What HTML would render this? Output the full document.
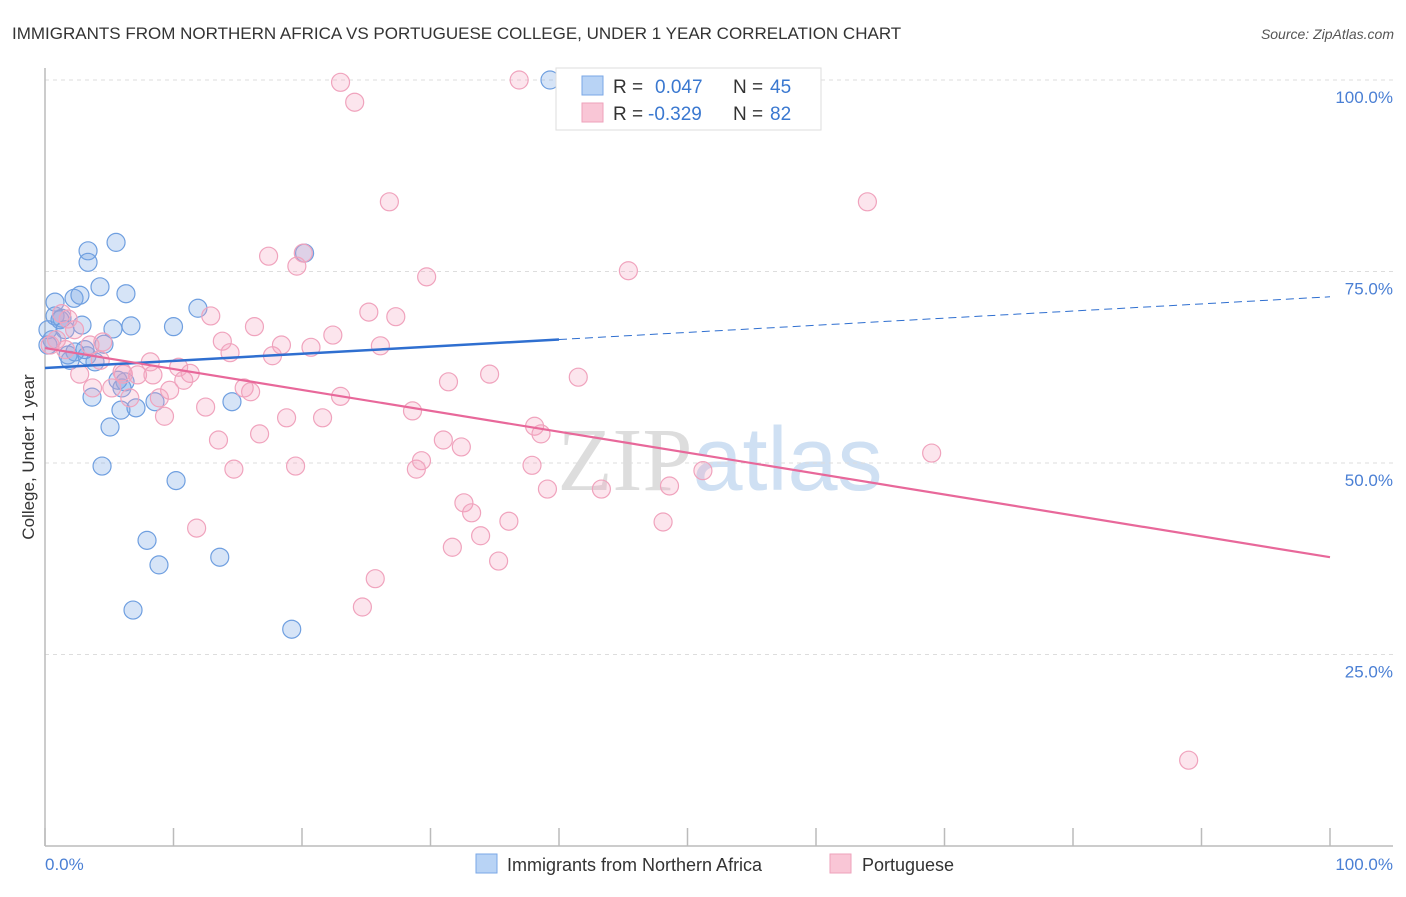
<!DOCTYPE html>
<html><head><meta charset="utf-8"><style>
body{margin:0;background:#fff;font-family:"Liberation Sans",sans-serif}
svg text{font-family:"Liberation Sans",sans-serif}
</style></head><body>
<svg id="chart" width="1406" height="892" viewBox="0 0 1406 892" xmlns="http://www.w3.org/2000/svg">
<text x="12" y="39" font-size="17" fill="#333">IMMIGRANTS FROM NORTHERN AFRICA VS PORTUGUESE COLLEGE, UNDER 1 YEAR CORRELATION CHART</text>
<text x="1394" y="39" font-size="14" fill="#555" text-anchor="end" font-style="italic">Source: ZipAtlas.com</text>
<text x="720" y="490" font-size="90" text-anchor="middle" fill="#e4e4e4"><tspan font-family="Liberation Serif" fill="#ddd">ZIP</tspan><tspan fill="#cfe0f3">atlas</tspan></text>
<g id="grid"></g>
<line x1="45" y1="68" x2="45" y2="846" stroke="#bbb" stroke-width="1.5"/>
<line x1="45" y1="846" x2="1393" y2="846" stroke="#bbb" stroke-width="1.5"/>
<g id="ticks"></g>
<text transform="translate(34,457) rotate(-90)" font-size="17" fill="#333" text-anchor="middle">College, Under 1 year</text>
<text x="45" y="870" font-size="17" fill="#4a7fd4">0.0%</text>
<text x="1393" y="870" font-size="17" fill="#4a7fd4" text-anchor="end">100.0%</text>
<g id="points"></g>
<g id="trends"></g>
<g>
<rect x="556" y="68" width="265" height="62" fill="#fff" stroke="#ddd"/>
<rect x="582" y="76" width="21" height="19" fill="#b8d3f5" stroke="#7aa7e6"/>
<rect x="582" y="103" width="21" height="19" fill="#f9c6d6" stroke="#eea2bb"/>
<text x="613" y="93" font-size="19" fill="#333">R = </text><text x="655" y="93" font-size="19" fill="#3a78d0">0.047</text>
<text x="733" y="93" font-size="19" fill="#333">N = </text><text x="770" y="93" font-size="19" fill="#3a78d0">45</text>
<text x="613" y="120" font-size="19" fill="#333">R = </text><text x="648" y="120" font-size="19" fill="#3a78d0">-0.329</text>
<text x="733" y="120" font-size="19" fill="#333">N = </text><text x="770" y="120" font-size="19" fill="#3a78d0">82</text>
</g>
<g>
<rect x="476" y="854" width="21" height="19" fill="#b8d3f5" stroke="#7aa7e6"/>
<text x="507" y="871" font-size="18" fill="#333">Immigrants from Northern Africa</text>
<rect x="830" y="854" width="21" height="19" fill="#f9c6d6" stroke="#eea2bb"/>
<text x="862" y="871" font-size="18" fill="#333">Portuguese</text>
</g>
</svg>
<script>
const yTicks=[100,75,50,25];
const yTickLabels=["100.0%","75.0%","50.0%","25.0%"];
const xTicks=[0,10,20,30,40,50,60,70,80,90,100];
const blueX=[0.78,3.35,3.35,5.53,2.26,2.72,4.28,6.30,11.9,10.0,6.69,5.29,2.88,1.32,0.78,0.23,0.54,1.79,1.95,3.27,3.89,4.59,3.11,6.23,5.99,3.66,5.91,7.08,8.56,14.55,5.06,4.44,10.2,7.94,8.87,13.6,6.85,19.2,39.3,20.2,0.23,1.17,1.56,2.33,5.68];
const blueY=[71.0,77.7,76.2,78.8,71.5,71.9,73.0,72.1,70.2,67.8,67.9,67.5,68.0,68.9,69.2,67.4,66.1,64.1,63.4,64.0,63.2,65.5,64.8,60.6,59.8,58.6,56.9,57.2,58.0,58.0,54.7,49.6,47.7,39.9,36.7,37.7,30.8,28.3,100,77.4,65.4,68.7,67.4,64.5,60.8];
const pinkX=[23.0,36.9,24.1,26.8,64.0,17.4,20.1,19.6,29.7,45.4,12.9,16.3,25.2,27.3,22.4,13.8,18.4,20.7,26.1,14.4,17.7,31.4,34.6,41.5,15.5,16.0,10.4,11.3,10.8,9.7,6.1,7.2,8.4,4.5,2.3,1.8,1.3,0.4,2.7,5.2,3.7,8.9,9.3,6.6,12.5,13.5,16.7,18.8,21.6,23.0,28.6,31.0,32.4,29.3,28.9,14.7,19.5,37.9,38.1,38.6,43.3,39.1,32.6,33.2,36.1,33.9,31.7,35.3,11.8,25.7,24.7,48.6,51.2,69.0,48.1,89.0,1.6,3.5,4.3,8.2,0.9,6.0];
const pinkY=[99.7,100,97.1,84.1,84.1,77.0,77.4,75.7,74.3,75.1,69.2,67.8,69.7,69.1,66.7,65.9,65.4,65.1,65.3,64.4,64.0,60.6,61.6,61.2,59.8,59.3,62.5,61.7,60.8,59.5,61.6,61.5,61.5,65.8,67.4,68.8,69.5,65.4,61.6,59.8,59.8,58.5,56.1,58.5,57.3,53.0,53.8,55.9,55.9,58.7,56.8,53.0,52.1,50.3,49.2,49.2,49.6,49.7,54.8,53.8,46.6,46.6,44.8,43.5,42.4,40.5,39.0,37.2,41.5,34.9,31.2,47.0,49.0,51.3,42.3,11.2,64.8,65.4,63.4,63.2,66.1,61.9];
const blueTrend=[62.4,71.7];
const blueSolidEnd=40;
const pinkTrend=[65.0,37.7];

const NS="http://www.w3.org/2000/svg";
const sx=v=>45+v*12.85;
const sy=v=>846-v*7.66;
function mk(tag,attrs,parent){const e=document.createElementNS(NS,tag);for(const k in attrs)e.setAttribute(k,attrs[k]);parent.appendChild(e);return e;}
const grid=document.getElementById('grid');
yTicks.forEach((t,i)=>{
 const l=mk('line',{x1:45,x2:1393,y1:sy(t),y2:sy(t),stroke:'#ddd','stroke-dasharray':'4,4'},grid);
 
 
 const tx=mk('text',{x:1393,y:sy(t)+23,'font-size':17,fill:'#4a7fd4','text-anchor':'end'},grid);
 tx.textContent=yTickLabels[i];
 
 
});
const ticks=document.getElementById('ticks');
xTicks.forEach(t=>{
 const l=mk('line',{x1:sx(t),x2:sx(t),y1:828,y2:846,stroke:'#bbb','stroke-width':1.5},ticks);
 
 
});
const pts=document.getElementById('points');
blueX.forEach((x,i)=>{
 const c=mk('circle',{cx:sx(x),cy:sy(blueY[i]),r:9,fill:'rgba(120,165,230,0.3)',stroke:'#6f9fe0','stroke-width':1.2},pts);
 
 
});
pinkX.forEach((x,i)=>{
 const c=mk('circle',{cx:sx(x),cy:sy(pinkY[i]),r:9,fill:'rgba(244,160,190,0.28)',stroke:'#f0a3bd','stroke-width':1.2},pts);
 
 
});
const tr=document.getElementById('trends');
const bAt=x=>blueTrend[0]+(blueTrend[1]-blueTrend[0])*x/100;
let l1=mk('line',{x1:sx(0),y1:sy(bAt(0)),x2:sx(blueSolidEnd),y2:sy(bAt(blueSolidEnd)),stroke:'#2f6fd0','stroke-width':2.5},tr);


let l2=mk('line',{x1:sx(blueSolidEnd),y1:sy(bAt(blueSolidEnd)),x2:sx(100),y2:sy(bAt(100)),stroke:'#2f6fd0','stroke-width':1,'stroke-dasharray':'8,5'},tr);


let l3=mk('line',{x1:sx(0),y1:sy(pinkTrend[0]),x2:sx(100),y2:sy(pinkTrend[1]),stroke:'#e8689a','stroke-width':2.2},tr);


</script>
</body></html>
